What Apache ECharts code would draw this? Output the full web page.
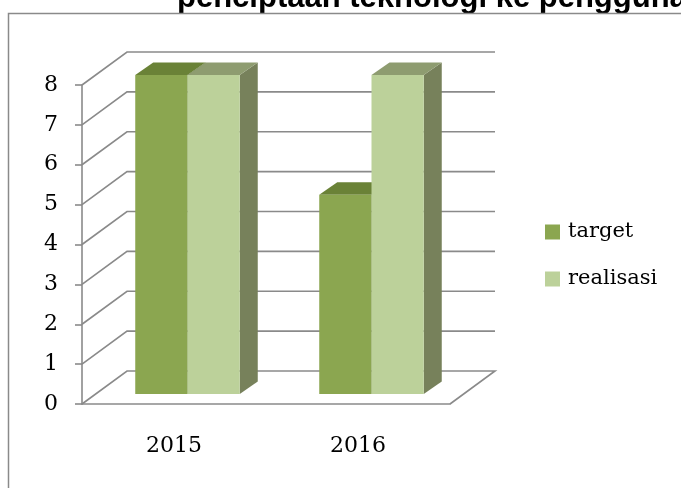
<!DOCTYPE html>
<html>
<head>
<meta charset="utf-8">
<style>
html, body { margin: 0; padding: 0; background: #fff; }
#chart { width: 681px; height: 488px; }
</style>
<script src="https://cdn.jsdelivr.net/npm/echarts@6/dist/echarts.min.js"></script>
</head>
<body>
<div id="chart"></div>
<script>
var years = ['2015', '2016'];
var target = [8, 5];
var realisasi = [8, 8];
var yTicks = [0, 1, 2, 3, 4, 5, 6, 7, 8];

// fake 3d: depth of walls and of the bars, in pixels
var wallDx = 45, wallDy = -33;
var barFx = 13.5, barFy = -10;
var barDx = 18, barDy = -12.5;
var barRatio = 0.284;
var gridColor = '#8a8a8a';
var serif = 'DejaVu Serif';

function barItem(side, colors) {
    return function (params, api) {
        var cat = api.value(0);
        var base = api.coord([cat, 0]);
        var top = api.coord([cat, api.value(1)]);
        var band = api.size([1, 0])[0];
        var w = band * barRatio;
        var x0 = base[0] + barFx + (side === 0 ? -w : 0);
        var x1 = x0 + w;
        var yb = base[1] + barFy;
        var yt = top[1] + barFy;
        return {
            type: 'group',
            children: [
                {type: 'polygon', shape: {points: [[x1, yb], [x1 + barDx, yb + barDy], [x1 + barDx, yt + barDy], [x1, yt]]}, style: {fill: colors.side}},
                {type: 'polygon', shape: {points: [[x0, yt], [x1, yt], [x1 + barDx, yt + barDy], [x0 + barDx, yt + barDy]]}, style: {fill: colors.top}},
                {type: 'rect', shape: {x: x0, y: yt, width: w, height: yb - yt}, style: {fill: colors.front}}
            ]
        };
    };
}

function wallItem(params, api) {
    var v = api.value(1);
    var band = api.size([1, 0])[0];
    var p = api.coord([0, v]);
    var xl = p[0] - band / 2;
    var xr = api.coord([years.length - 1, v])[0] + band / 2;
    var pts = [[xl, p[1]], [xl + wallDx, p[1] + wallDy], [xr + wallDx, p[1] + wallDy]];
    if (v === 0) pts.push([xr, p[1]]);
    return {type: 'polyline', shape: {points: pts}, style: {stroke: gridColor, lineWidth: 1.6, fill: null}};
}

var option = {
    animation: false,
    backgroundColor: '#fff',
    graphic: [
        {type: 'text', x: 177, y: -2, z: -2,
            style: {text: 'penciptaan teknologi ke pengguna', font: 'bold 31px "Liberation Sans"', fill: '#000', verticalAlign: 'middle'}},
        {type: 'rect', z: -1, shape: {x: 8.5, y: 13.5, width: 700, height: 500},
            style: {fill: '#fff', stroke: '#8a8a8a', lineWidth: 1.5}}
    ],
    legend: {
        data: ['target', 'realisasi'],
        orient: 'vertical',
        left: 545,
        top: 220,
        padding: 0,
        icon: 'rect',
        itemWidth: 15,
        itemHeight: 15,
        itemGap: 23,
        textStyle: {fontFamily: serif, fontSize: 21, lineHeight: 24, color: '#000', padding: [0, 0, 0, 3]}
    },
    grid: {left: 82, top: 85, width: 368, height: 319},
    xAxis: {
        type: 'category',
        data: years,
        axisLine: {lineStyle: {color: gridColor, width: 1.6}},
        axisTick: {length: 7, lineStyle: {color: gridColor, width: 1.6}},
        axisLabel: {margin: 31, fontFamily: serif, fontSize: 22, color: '#000'},
        splitLine: {show: false}
    },
    yAxis: {
        type: 'value',
        min: 0,
        max: 8,
        interval: 1,
        axisLine: {show: true, lineStyle: {color: gridColor, width: 1.6}},
        axisTick: {show: true, length: 7, lineStyle: {color: gridColor, width: 1.6}},
        axisLabel: {margin: 24, fontFamily: serif, fontSize: 22, color: '#000'},
        splitLine: {show: false}
    },
    series: [
        {
            name: 'walls', type: 'custom', z: 1, silent: true,
            renderItem: wallItem,
            data: yTicks.map(function (v) { return [0, v]; })
        },
        {
            name: 'target', type: 'custom', z: 2,
            itemStyle: {color: '#8BA650'},
            renderItem: barItem(0, {front: '#8BA650', top: '#6A8237', side: '#5F7530'}),
            data: target.map(function (v, i) { return [i, v]; })
        },
        {
            name: 'realisasi', type: 'custom', z: 3,
            itemStyle: {color: '#BCD19A'},
            renderItem: barItem(1, {front: '#BCD19A', top: '#8E9C70', side: '#77815B'}),
            data: realisasi.map(function (v, i) { return [i, v]; })
        }
    ]
};

var myChart = echarts.init(document.getElementById('chart'));
myChart.setOption(option);
</script>
</body>
</html>
